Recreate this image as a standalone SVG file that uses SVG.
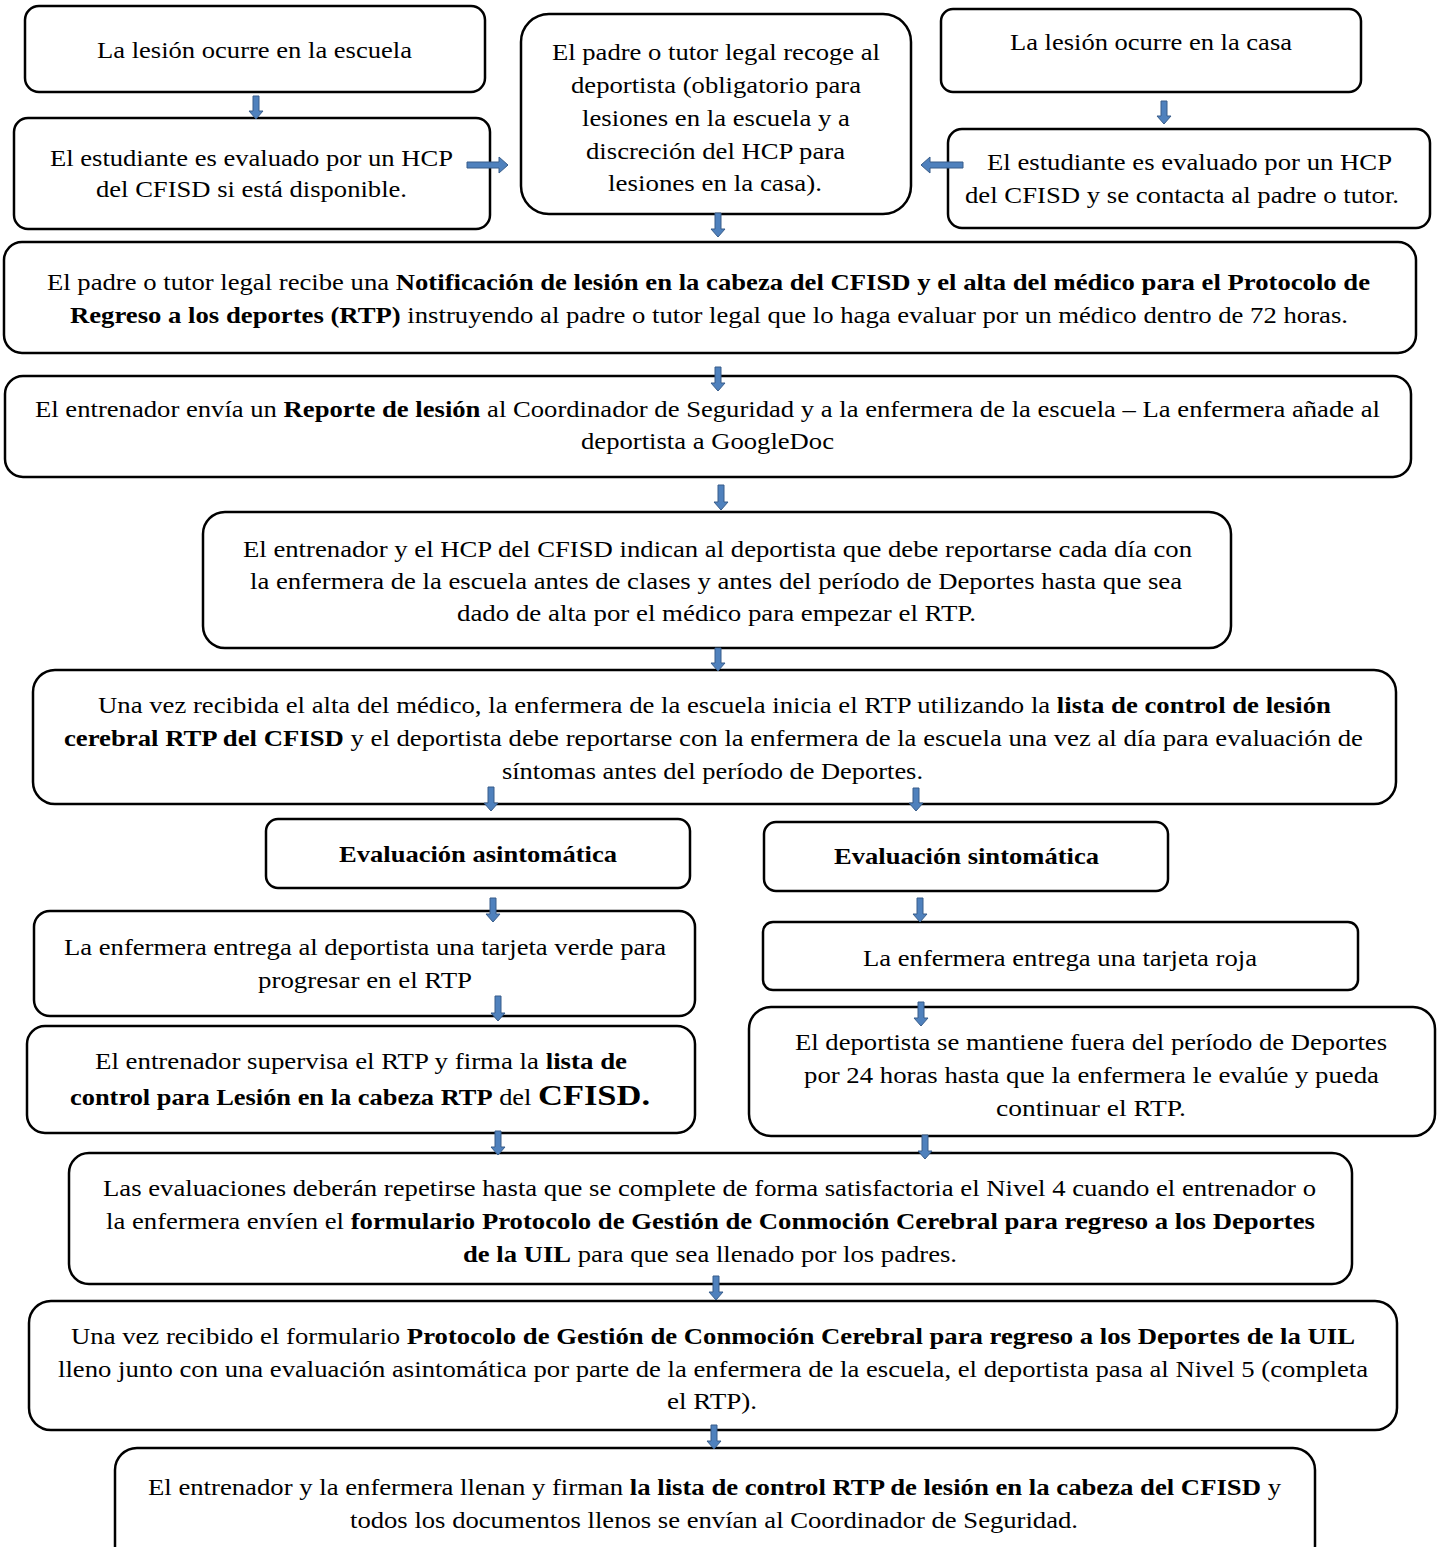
<svg xmlns="http://www.w3.org/2000/svg" width="1438" height="1547" viewBox="0 0 1438 1547">
<style>
.box{fill:#fff;stroke:#000;stroke-width:2.5}
text{font-family:'Liberation Serif','LiberationSerif','Nimbus Roman','Nimbus Roman No9 L',Tinos,'Times New Roman',Times,serif;font-size:23px;fill:#000}
.b{font-weight:bold}
.arr{fill:#4F81BD;stroke:#385D8A;stroke-width:1}
</style>
<rect width="1438" height="1547" fill="#fff"/>
<g id="n1"><rect class="box" x="25" y="6" width="460" height="86" rx="14"/>
<text x="97" y="58" textLength="315" lengthAdjust="spacingAndGlyphs">La lesión ocurre en la escuela</text></g>
<g id="n2"><rect class="box" x="14" y="118" width="476" height="111" rx="14"/>
<text x="50" y="166" textLength="403" lengthAdjust="spacingAndGlyphs">El estudiante es evaluado por un HCP</text>
<text x="96" y="197" textLength="311" lengthAdjust="spacingAndGlyphs">del CFISD si está disponible.</text></g>
<g id="n3"><rect class="box" x="521" y="14" width="390" height="200" rx="28"/>
<text x="552" y="60" textLength="328" lengthAdjust="spacingAndGlyphs">El padre o tutor legal recoge al</text>
<text x="571" y="93" textLength="290" lengthAdjust="spacingAndGlyphs">deportista (obligatorio para</text>
<text x="582" y="126" textLength="268" lengthAdjust="spacingAndGlyphs">lesiones en la escuela y a</text>
<text x="586" y="159" textLength="259" lengthAdjust="spacingAndGlyphs">discreción del HCP para</text>
<text x="608" y="191" textLength="214" lengthAdjust="spacingAndGlyphs">lesiones en la casa).</text></g>
<g id="n4"><rect class="box" x="941" y="9" width="420" height="83" rx="12"/>
<text x="1010" y="50" textLength="282" lengthAdjust="spacingAndGlyphs">La lesión ocurre en la casa</text></g>
<g id="n5"><rect class="box" x="948" y="129" width="482" height="99" rx="14"/>
<text x="987" y="170" textLength="405" lengthAdjust="spacingAndGlyphs">El estudiante es evaluado por un HCP</text>
<text x="965" y="203" textLength="434" lengthAdjust="spacingAndGlyphs">del CFISD y se contacta al padre o tutor.</text></g>
<g id="n6"><rect class="box" x="4" y="242" width="1412" height="111" rx="18"/>
<text x="47" y="290" textLength="1323" lengthAdjust="spacingAndGlyphs">El padre o tutor legal recibe una <tspan class="b">Notificación de lesión en la cabeza del CFISD y el alta del médico para el Protocolo de</tspan></text>
<text x="70" y="323" textLength="1278" lengthAdjust="spacingAndGlyphs"><tspan class="b">Regreso a los deportes (RTP)</tspan> instruyendo al padre o tutor legal que lo haga evaluar por un médico dentro de 72 horas.</text></g>
<g id="n7"><rect class="box" x="5" y="376" width="1406" height="101" rx="18"/>
<text x="35" y="417" textLength="1345" lengthAdjust="spacingAndGlyphs">El entrenador envía un <tspan class="b">Reporte de lesión</tspan> al Coordinador de Seguridad y a la enfermera de la escuela – La enfermera añade al</text>
<text x="581" y="449" textLength="253" lengthAdjust="spacingAndGlyphs">deportista a GoogleDoc</text></g>
<g id="n8"><rect class="box" x="203" y="512" width="1028" height="136" rx="22"/>
<text x="243" y="557" textLength="949" lengthAdjust="spacingAndGlyphs">El entrenador y el HCP del CFISD indican al deportista que debe reportarse cada día con</text>
<text x="250" y="589" textLength="932" lengthAdjust="spacingAndGlyphs">la enfermera de la escuela antes de clases y antes del período de Deportes hasta que sea</text>
<text x="457" y="621" textLength="519" lengthAdjust="spacingAndGlyphs">dado de alta por el médico para empezar el RTP.</text></g>
<g id="n9"><rect class="box" x="33" y="670" width="1363" height="134" rx="22"/>
<text x="98" y="713" textLength="1233" lengthAdjust="spacingAndGlyphs">Una vez recibida el alta del médico, la enfermera de la escuela inicia el RTP utilizando la <tspan class="b">lista de control de lesión</tspan></text>
<text x="64" y="746" textLength="1299" lengthAdjust="spacingAndGlyphs"><tspan class="b">cerebral RTP del CFISD</tspan> y el deportista debe reportarse con la enfermera de la escuela una vez al día para evaluación de</text>
<text x="502" y="779" textLength="421" lengthAdjust="spacingAndGlyphs">síntomas antes del período de Deportes.</text></g>
<g id="n10"><rect class="box" x="266" y="819" width="424" height="69" rx="12"/>
<text class="b" x="339" y="862" textLength="278" lengthAdjust="spacingAndGlyphs">Evaluación asintomática</text></g>
<g id="n11"><rect class="box" x="764" y="822" width="404" height="69" rx="12"/>
<text class="b" x="834" y="864" textLength="265" lengthAdjust="spacingAndGlyphs">Evaluación sintomática</text></g>
<g id="n12"><rect class="box" x="34" y="911" width="661" height="105" rx="16"/>
<text x="64" y="955" textLength="602" lengthAdjust="spacingAndGlyphs">La enfermera entrega al deportista una tarjeta verde para</text>
<text x="258" y="988" textLength="214" lengthAdjust="spacingAndGlyphs">progresar en el RTP</text></g>
<g id="n13"><rect class="box" x="763" y="922" width="595" height="68" rx="10"/>
<text x="863" y="966" textLength="394" lengthAdjust="spacingAndGlyphs">La enfermera entrega una tarjeta roja</text></g>
<g id="n14"><rect class="box" x="27" y="1026" width="668" height="107" rx="18"/>
<text x="95" y="1069" textLength="532" lengthAdjust="spacingAndGlyphs">El entrenador supervisa el RTP y firma la <tspan class="b">lista de</tspan></text>
<text x="70" y="1105" textLength="580" lengthAdjust="spacingAndGlyphs"><tspan class="b">control para Lesión en la cabeza RTP</tspan> del <tspan class="b" font-size="30">CFISD.</tspan></text></g>
<g id="n15"><rect class="box" x="749" y="1007" width="686" height="129" rx="22"/>
<text x="795" y="1050" textLength="592" lengthAdjust="spacingAndGlyphs">El deportista se mantiene fuera del período de Deportes</text>
<text x="804" y="1083" textLength="575" lengthAdjust="spacingAndGlyphs">por 24 horas hasta que la enfermera le evalúe y pueda</text>
<text x="996" y="1116" textLength="190" lengthAdjust="spacingAndGlyphs">continuar el RTP.</text></g>
<g id="n16"><rect class="box" x="69" y="1153" width="1283" height="131" rx="20"/>
<text x="103" y="1196" textLength="1213" lengthAdjust="spacingAndGlyphs">Las evaluaciones deberán repetirse hasta que se complete de forma satisfactoria el Nivel 4 cuando el entrenador o</text>
<text x="106" y="1229" textLength="1209" lengthAdjust="spacingAndGlyphs">la enfermera envíen el <tspan class="b">formulario Protocolo de Gestión de Conmoción Cerebral para regreso a los Deportes</tspan></text>
<text x="463" y="1262" textLength="494" lengthAdjust="spacingAndGlyphs"><tspan class="b">de la UIL</tspan> para que sea llenado por los padres.</text></g>
<g id="n17"><rect class="box" x="29" y="1301" width="1368" height="129" rx="22"/>
<text x="71" y="1344" textLength="1284" lengthAdjust="spacingAndGlyphs">Una vez recibido el formulario <tspan class="b">Protocolo de Gestión de Conmoción Cerebral para regreso a los Deportes de la UIL</tspan></text>
<text x="58" y="1377" textLength="1310" lengthAdjust="spacingAndGlyphs">lleno junto con una evaluación asintomática por parte de la enfermera de la escuela, el deportista pasa al Nivel 5 (completa</text>
<text x="667" y="1409" textLength="90" lengthAdjust="spacingAndGlyphs">el RTP).</text></g>
<g id="n18"><rect class="box" x="115" y="1448" width="1200" height="120" rx="22"/>
<text x="148" y="1495" textLength="1133" lengthAdjust="spacingAndGlyphs">El entrenador y la enfermera llenan y firman <tspan class="b">la lista de control RTP de lesión en la cabeza del CFISD</tspan> y</text>
<text x="350" y="1528" textLength="728" lengthAdjust="spacingAndGlyphs">todos los documentos llenos se envían al Coordinador de Seguridad.</text></g>
<g id="connectors">
<path class="arr" d="M253,96 h6 v15 h4 l-7,8 l-7,-8 h4 z"/>
<path class="arr" d="M1161,101 h6 v15 h4 l-7,8 l-7,-8 h4 z"/>
<path class="arr" d="M715,213 h6 v16 h4 l-7,8 l-7,-8 h4 z"/>
<path class="arr" d="M715,367 h6 v16 h4 l-7,8 l-7,-8 h4 z"/>
<path class="arr" d="M718,485 h6 v17 h4 l-7,8 l-7,-8 h4 z"/>
<path class="arr" d="M715,648 h6 v15 h4 l-7,8 l-7,-8 h4 z"/>
<path class="arr" d="M488,787 h6 v16 h4 l-7,8 l-7,-8 h4 z"/>
<path class="arr" d="M913,788 h6 v15 h4 l-7,8 l-7,-8 h4 z"/>
<path class="arr" d="M490,898 h6 v16 h4 l-7,8 l-7,-8 h4 z"/>
<path class="arr" d="M917,898 h6 v16 h4 l-7,8 l-7,-8 h4 z"/>
<path class="arr" d="M495,996 h6 v17 h4 l-7,8 l-7,-8 h4 z"/>
<path class="arr" d="M918,1002 h6 v16 h4 l-7,8 l-7,-8 h4 z"/>
<path class="arr" d="M495,1131 h6 v16 h4 l-7,8 l-7,-8 h4 z"/>
<path class="arr" d="M922,1135 h6 v16 h4 l-7,8 l-7,-8 h4 z"/>
<path class="arr" d="M713,1276 h6 v16 h4 l-7,8 l-7,-8 h4 z"/>
<path class="arr" d="M711,1425 h6 v16 h4 l-7,8 l-7,-8 h4 z"/>
<path class="arr" d="M467,162 h32 v-5 l9,8 l-9,8 v-5 h-32 z"/>
<path class="arr" d="M963,162 h-33 v-5 l-9,8 l9,8 v-5 h33 z"/>
</g>
</svg>
